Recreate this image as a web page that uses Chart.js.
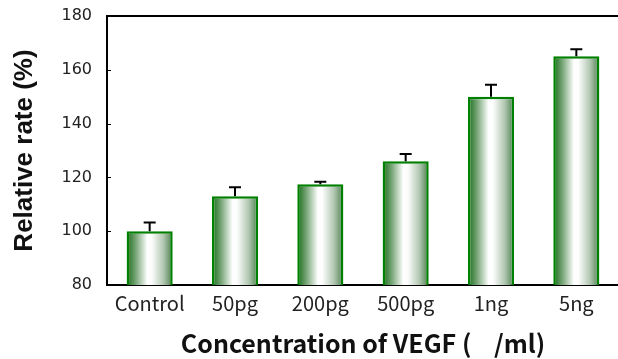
<!DOCTYPE html>
<html>
<head>
<meta charset="utf-8">
<script src="https://cdn.jsdelivr.net/npm/chart.js@4/dist/chart.umd.min.js"></script>
<style>
  html, body { margin: 0; padding: 0; background: #fff; overflow: hidden; }
  #wrap { width: 618px; height: 359px; overflow: hidden; }
</style>
</head>
<body>
<div id="wrap"><canvas id="c" width="620" height="359"></canvas></div>
<script>
// VEGF dose response: relative rate vs. control, mean with upper SD bar
const categories = ['Control', '50pg', '200pg', '500pg', '1ng', '5ng'];
const rateValues = [100, 113, 117.5, 126, 150, 165];
const rateErrors = [3.2, 3.3, 0.9, 2.7, 4.4, 2.6];
const yTicks = [80, 100, 120, 140, 160, 180];

// Horizontal cylinder-style shading for each bar
function barGradient(ctx) {
  const chart = ctx.chart;
  const xs = chart.scales.x;
  if (!xs || !chart.chartArea || ctx.dataIndex === undefined) return '#ffffff';
  const cx = xs.getPixelForValue(ctx.dataIndex);
  const w = xs.width / categories.length * 0.54;
  const g = chart.ctx.createLinearGradient(cx - w / 2, 0, cx + w / 2, 0);
  g.addColorStop(0, '#176b17');
  g.addColorStop(0.2, '#78a678');
  g.addColorStop(0.45, '#ffffff');
  g.addColorStop(0.55, '#fbfcfb');
  g.addColorStop(0.8, '#b0c6b0');
  g.addColorStop(1, '#4c7f4c');
  return g;
}

// Upper error whiskers, frame top edge and inward y ticks
const decorations = {
  id: 'decorations',
  afterDatasetsDraw(chart) {
    const {ctx, chartArea} = chart;
    const xs = chart.scales.x, ys = chart.scales.y;
    ctx.save();
    ctx.strokeStyle = '#000';
    ctx.lineWidth = 2;
    rateValues.forEach((v, i) => {
      const x = xs.getPixelForValue(i);
      const y0 = ys.getPixelForValue(v);
      const y1 = ys.getPixelForValue(v + rateErrors[i]);
      ctx.beginPath();
      ctx.moveTo(x, y0);
      ctx.lineTo(x, y1);
      ctx.moveTo(x - 6, y1);
      ctx.lineTo(x + 6, y1);
      ctx.stroke();
    });
    // top frame line
    ctx.beginPath();
    ctx.moveTo(chartArea.left - 1, chartArea.top);
    ctx.lineTo(chartArea.right + 2, chartArea.top);
    ctx.stroke();
    // small ticks pointing into the plot
    ctx.lineWidth = 1;
    yTicks.forEach(t => {
      const y = Math.round(ys.getPixelForValue(t)) + 0.5;
      ctx.beginPath();
      ctx.moveTo(chartArea.left, y);
      ctx.lineTo(chartArea.left + 4, y);
      ctx.stroke();
    });
    ctx.restore();
  }
};

new Chart(document.getElementById('c'), {
  type: 'bar',
  data: {
    labels: categories,
    datasets: [{
      data: rateValues,
      backgroundColor: barGradient,
      borderColor: '#008000',
      borderWidth: 2.5,
      borderSkipped: false,
      barPercentage: 0.54,
      categoryPercentage: 1.0
    }]
  },
  options: {
    responsive: false,
    devicePixelRatio: 1,
    animation: false,
    layout: { padding: { top: 16, left: 0, right: 1, bottom: 0 } },
    plugins: { legend: { display: false }, tooltip: { enabled: false } },
    scales: {
      x: {
        grid: { display: false, drawTicks: false },
        border: { display: true, color: '#000', width: 2 },
        ticks: {
          color: '#222',
          padding: 6,
          font: { family: '"Noto Sans CJK KR", "Noto Sans", sans-serif', size: 20 }
        },
        title: {
          display: true,
          text: 'Concentration of VEGF (    /ml)',
          color: '#111',
          padding: { top: 0, bottom: 1 },
          font: { family: '"Noto Sans CJK KR", "Open Sans", sans-serif', size: 25, weight: 'bold' }
        },
        afterFit(scale) { scale.height = 74; }
      },
      y: {
        min: 80,
        max: 180,
        afterBuildTicks(scale) { scale.ticks = yTicks.map(v => ({ value: v })); },
        grid: { display: false, drawTicks: false },
        border: { display: true, color: '#000', width: 2 },
        ticks: {
          color: '#222',
          padding: 15,
          font: { family: '"DejaVu Sans", sans-serif', size: 16 }
        },
        title: {
          display: true,
          text: 'Relative rate (%)',
          color: '#111',
          padding: { top: 9, bottom: 0 },
          font: { family: '"Liberation Sans", Arial, sans-serif', size: 26, weight: 'bold' }
        },
        afterFit(scale) {
          scale.width = 107;
          scale.paddingTop = 0;
          scale.paddingBottom = 0;
        }
      }
    }
  },
  plugins: [decorations]
});
</script>
</body>
</html>
